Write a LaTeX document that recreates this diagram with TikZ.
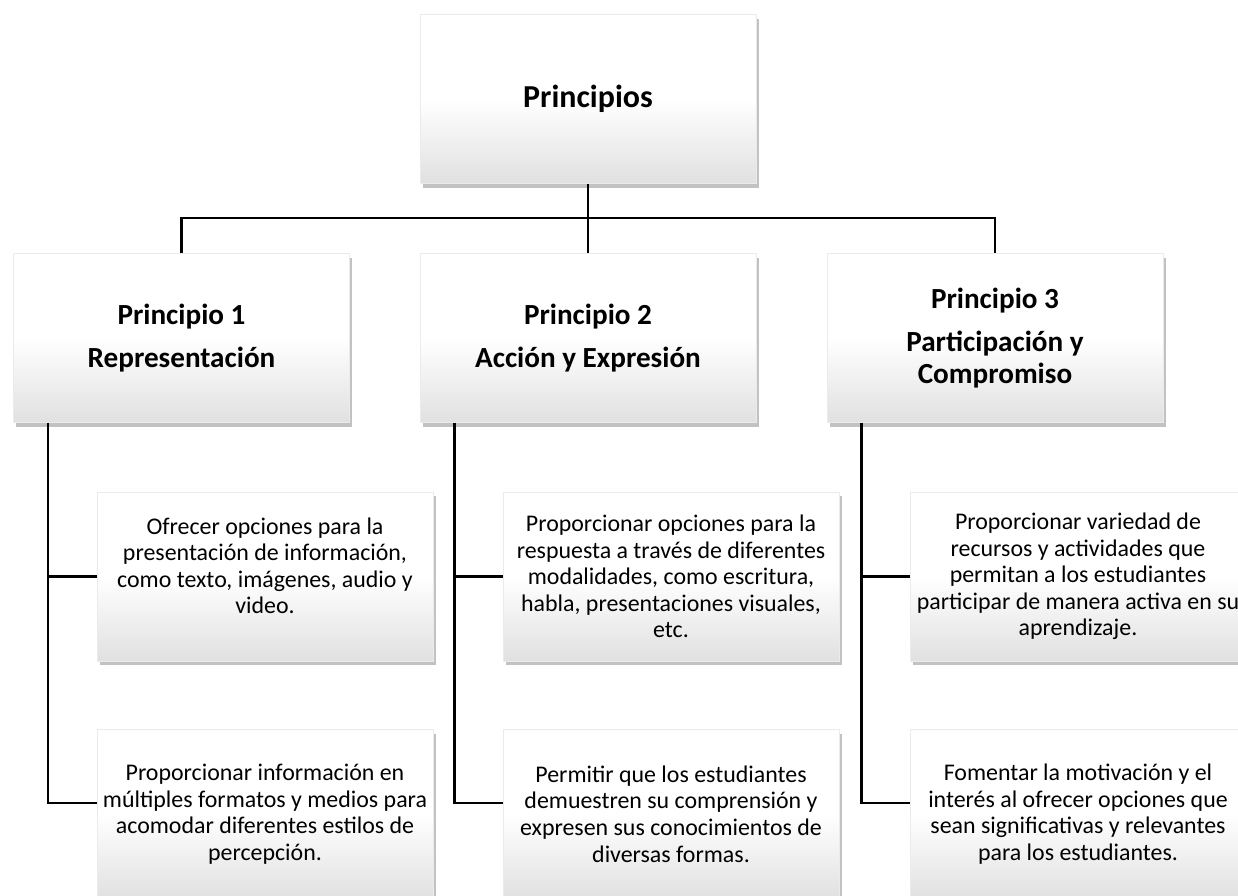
\documentclass[tikz,border=0pt]{standalone}
\usepackage{fontspec}
\setmainfont{Carlito}
\usepackage{tikz}
\usetikzlibrary{shadows,positioning,calc}

\tikzset{
  box/.style={rectangle, draw=black!8, line width=0.3pt, align=center,
    minimum width=6.72cm, minimum height=3.38cm, inner sep=0pt,
    top color=white, bottom color=black!12, middle color=white,
    drop shadow={shadow xshift=1.5pt, shadow yshift=-2.5pt, fill=black!60, opacity=0.4}},
  head/.style={box, font=\fontsize{16.6}{18.2}\selectfont\bfseries},
  leaf/.style={box, font=\fontsize{13.6}{15.1}\selectfont},
  link/.style={line width=1.2pt, black}
}

\begin{document}
\begin{tikzpicture}[x=0.02cm, y=-0.02cm]
    \clip (0,0) rectangle (1238,896);

    % Principios
    \node[head, font=\fontsize{18.2}{20}\selectfont\bfseries] (root) at (588,99) {Principios};

    % Principio 1, 2, 3
    \node[head] (p1) at (181.5,338) {Principio 1\\[6.5pt]Representación};
    \node[head] (p2) at (588,338) {Principio 2\\[6.5pt]Acción y Expresión};
    \node[head] (p3) at (995,338) {Principio 3\\[6.5pt]Participación y\\Compromiso};

    % Representación
    \node[leaf] (c11) at (265,576.5) {Ofrecer opciones para la\\presentación de información,\\como texto, imágenes, audio y\\video.\\[-3pt]\mbox{}};
    \node[leaf] (c12) at (265,814) {Proporcionar información en\\múltiples formatos y medios para\\acomodar diferentes estilos de\\percepción.};

    % Acción y Expresión
    \node[leaf] (c21) at (671,576.5) {Proporcionar opciones para la\\respuesta a través de diferentes\\modalidades, como escritura,\\habla, presentaciones visuales,\\etc.};
    \node[leaf] (c22) at (671,814) {Permitir que los estudiantes\\demuestren su comprensión y\\expresen sus conocimientos de\\diversas formas.};

    % Participación y Compromiso
    \node[leaf] (c31) at (1078,576.5) {Proporcionar variedad de\\recursos y actividades que\\permitan a los estudiantes\\participar de manera activa en su\\aprendizaje.};
    \node[leaf] (c32) at (1078,814) {Fomentar la motivación y el\\interés al ofrecer opciones que\\sean significativas y relevantes\\para los estudiantes.};

    % lines
    \draw[link] (root.south) -- (p2.north);
    \draw[link] (p1.north) -- ++(0,-35) -| (p3.north);
    \foreach \p in {1,2,3} {
        \draw[link] ([xshift=-2.67cm]p\p.south) |- (c\p1.west);
        \draw[link] ([xshift=-2.67cm]p\p.south) |- ([yshift=0.22cm]c\p2.west);
    }
\end{tikzpicture}
\end{document}
